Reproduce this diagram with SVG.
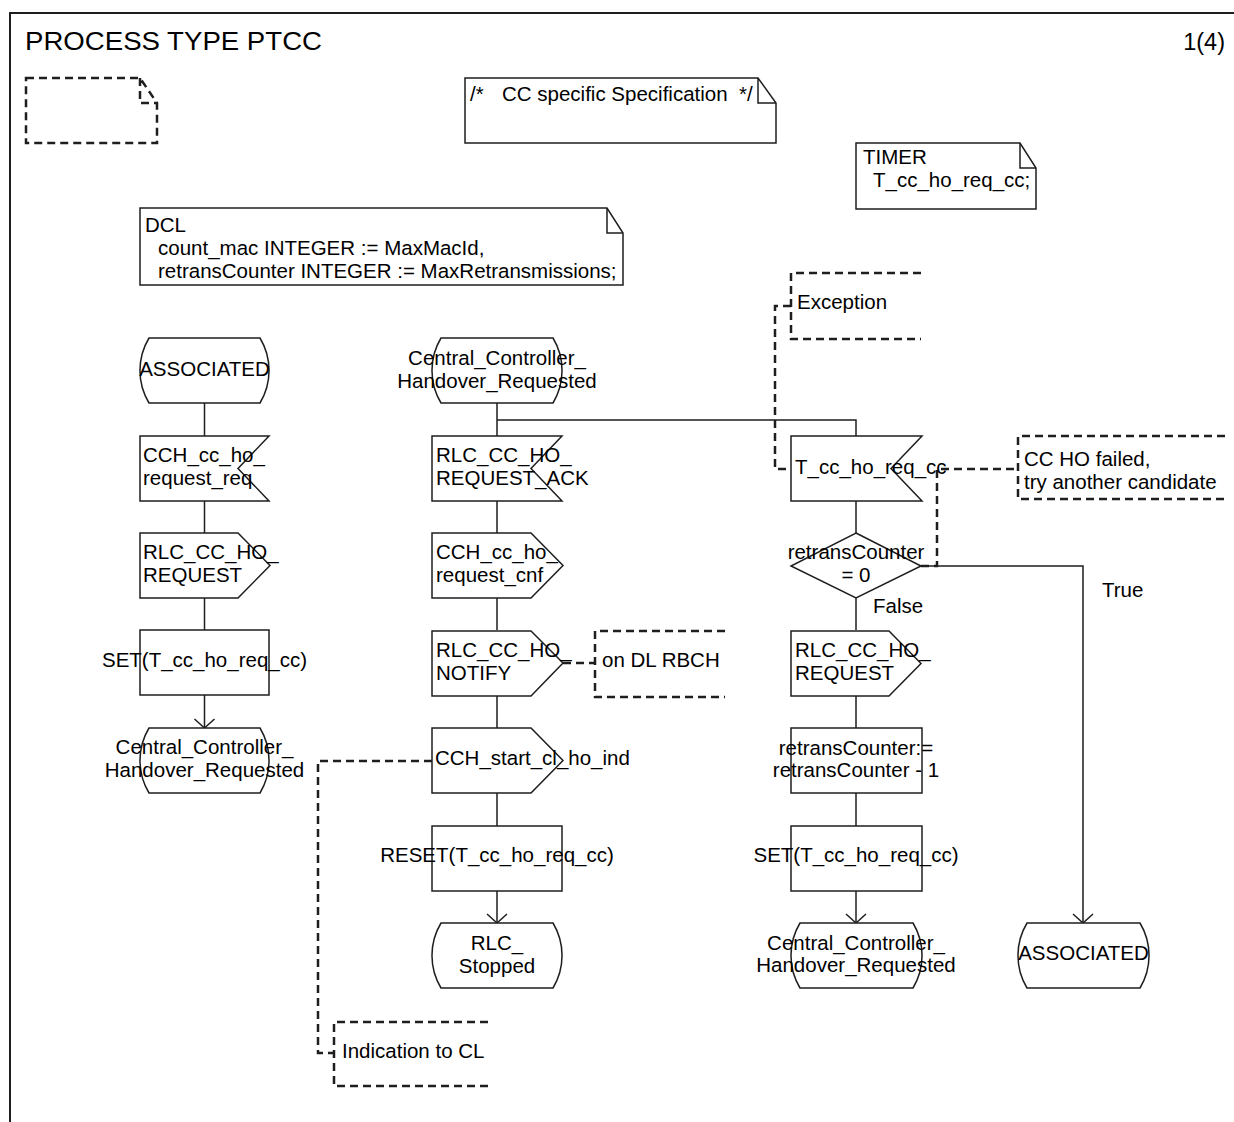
<svg xmlns="http://www.w3.org/2000/svg" width="1234" height="1122" viewBox="0 0 1234 1122">
<style>
text{font-family:"Liberation Sans",Arial,sans-serif;font-size:20.5px;fill:#000}
.c{text-anchor:middle}
.s{fill:#fff;stroke:#1e1e1e;stroke-width:1.5}
.f{fill:none;stroke:#1e1e1e;stroke-width:1.5}
.d{fill:none;stroke:#1e1e1e;stroke-width:2.5;stroke-dasharray:8 5}
.l{fill:none;stroke:#1e1e1e;stroke-width:1.5}
</style>
<defs>
<marker id="arr" viewBox="-11 -11 13 22" refX="0" refY="0" markerWidth="13" markerHeight="22" markerUnits="userSpaceOnUse" orient="auto" overflow="visible">
<path d="M-9,-10 L0,0 L-9,10" fill="none" stroke="#1e1e1e" stroke-width="1.5"/>
</marker>
</defs>
<g id="frame">
<path d="M10,1122 V13 H1234" fill="none" stroke="#1e1e1e" stroke-width="2"/>
<text x="25" y="50" style="font-size:26px" textLength="297" lengthAdjust="spacingAndGlyphs">PROCESS TYPE PTCC</text>
<text x="1225" y="50" style="font-size:23.5px;text-anchor:end">1(4)</text>
</g>
<g id="connectors">
<path class="l" d="M204.5,403 V436 M204.5,501 V533 M204.5,598 V630"/>
<path class="l" d="M204.5,695 V728" marker-end="url(#arr)"/>
<path class="l" d="M497,403 V436 M497,501 V533 M497,598 V630 M497,696 V728 M497,793 V826 M497,420 H856 V436"/>
<path class="l" d="M497,891 V923" marker-end="url(#arr)"/>
<path class="l" d="M856,501 V533 M856,598 V630 M856,696 V728 M856,793 V826"/>
<path class="l" d="M856,891 V923" marker-end="url(#arr)"/>
<path class="l" d="M921,566 H1083 V923" marker-end="url(#arr)"/>
<path class="d" d="M791,306 H775 V469 H791"/>
<path class="d" d="M921,566 H937 V469 H1018"/>
<path class="d" d="M563,663 H595"/>
<path class="d" d="M432,761 H318 V1053 H334"/>
</g>
<g id="note_empty"><path class="d" d="M26,78 H140 L157,103 V143 H26 Z M140,78 V103 H157"/></g>
<g id="note_cc">
<path class="s" d="M465,78 H758 L776,103 V143 H465 Z"/><path class="f" d="M758,78 V103 H776"/>
<text y="101"><tspan x="470">/*</tspan><tspan x="502">CC specific Specification</tspan><tspan x="739">*/</tspan></text>
</g>
<g id="note_timer">
<path class="s" d="M856,143 H1020 L1036,168 V209 H856 Z"/><path class="f" d="M1020,143 V168 H1036"/>
<text x="863" y="164">TIMER</text><text x="873" y="187">T_cc_ho_req_cc;</text>
</g>
<g id="note_dcl">
<path class="s" d="M140,208 H607 L623,233 V285 H140 Z"/><path class="f" d="M607,208 V233 H623"/>
<text x="145" y="232">DCL</text>
<text x="158" y="255">count_mac INTEGER := MaxMacId,</text>
<text x="158" y="278">retransCounter INTEGER := MaxRetransmissions;</text>
</g>
<g id="state_associated_1">
<path class="s" d="M149,338 H260 A63 63 0 0 1 260,403 H149 A63 63 0 0 1 149,338 Z"/>
<text class="c" x="204.5" y="376">ASSOCIATED</text>
</g>
<g id="input_cch_req">
<path class="s" d="M140,436 H269 L238,468.5 L269,501 H140 Z"/>
<text x="143" y="462">CCH_cc_ho_</text><text x="143" y="485">request_req</text>
</g>
<g id="output_rlc_req_1">
<path class="s" d="M140,533 H238 L270,565.5 L238,598 H140 Z"/>
<text x="143" y="559">RLC_CC_HO_</text><text x="143" y="582">REQUEST</text>
</g>
<g id="task_set_1">
<rect class="s" x="140" y="630" width="129" height="65"/>
<text class="c" x="204.5" y="667">SET(T_cc_ho_req_cc)</text>
</g>
<g id="state_cchr_1">
<path class="s" d="M149,728 H260 A63 63 0 0 1 260,793 H149 A63 63 0 0 1 149,728 Z"/>
<text class="c" x="204.5" y="754">Central_Controller_</text><text class="c" x="204.5" y="777">Handover_Requested</text>
</g>
<g id="state_cchr_2">
<path class="s" d="M441,338 H553 A63 63 0 0 1 553,403 H441 A63 63 0 0 1 441,338 Z"/>
<text class="c" x="497" y="365">Central_Controller_</text><text class="c" x="497" y="388">Handover_Requested</text>
</g>
<g id="input_rlc_ack">
<path class="s" d="M432,436 H562 L531,468.5 L562,501 H432 Z"/>
<text x="436" y="462">RLC_CC_HO_</text><text x="436" y="485">REQUEST_ACK</text>
</g>
<g id="output_cch_cnf">
<path class="s" d="M432,533 H531 L563,565.5 L531,598 H432 Z"/>
<text x="436" y="559">CCH_cc_ho_</text><text x="436" y="582">request_cnf</text>
</g>
<g id="output_rlc_notify">
<path class="s" d="M432,631 H531 L563,663 L531,696 H432 Z"/>
<text x="436" y="657">RLC_CC_HO_</text><text x="436" y="680">NOTIFY</text>
</g>
<g id="comment_dl_rbch">
<path class="d" d="M725,631 H595 V697 H725"/>
<text x="602" y="667">on DL RBCH</text>
</g>
<g id="output_cch_start">
<path class="s" d="M432,728 H531 L563,760.5 L531,793 H432 Z"/>
<text x="435" y="765">CCH_start_cl_ho_ind</text>
</g>
<g id="comment_indication">
<path class="d" d="M488,1022 H334 V1086 H488"/>
<text x="342" y="1058">Indication to CL</text>
</g>
<g id="task_reset">
<rect class="s" x="432" y="826" width="130" height="65"/>
<text class="c" x="497" y="862">RESET(T_cc_ho_req_cc)</text>
</g>
<g id="state_rlc_stopped">
<path class="s" d="M441,923 H553 A63 63 0 0 1 553,988 H441 A63 63 0 0 1 441,923 Z"/>
<text class="c" x="497" y="950">RLC_</text><text class="c" x="497" y="973">Stopped</text>
</g>
<g id="comment_exception">
<path class="d" d="M921,273 H791 V339 H921"/>
<text x="797" y="309">Exception</text>
</g>
<g id="input_timer">
<path class="s" d="M791,436 H922 L891,468.5 L922,501 H791 Z"/>
<text x="795" y="474">T_cc_ho_req_cc</text>
</g>
<g id="comment_cc_ho_failed">
<path class="d" d="M1225,436 H1018 V499 H1225"/>
<text x="1024" y="466">CC HO failed,</text><text x="1024" y="489">try another candidate</text>
</g>
<g id="decision_retrans">
<path class="s" d="M856,533 L921,566 L856,598 L791,566 Z"/>
<text class="c" x="856" y="559">retransCounter</text><text class="c" x="856" y="582">= 0</text>
<text x="873" y="613">False</text>
<text x="1102" y="597">True</text>
</g>
<g id="output_rlc_req_3">
<path class="s" d="M791,631 H889 L921,663.5 L889,696 H791 Z"/>
<text x="795" y="657">RLC_CC_HO_</text><text x="795" y="680">REQUEST</text>
</g>
<g id="task_dec">
<rect class="s" x="791" y="728" width="131" height="65"/>
<text class="c" x="856" y="755">retransCounter:=</text><text class="c" x="856" y="777">retransCounter - 1</text>
</g>
<g id="task_set_3">
<rect class="s" x="791" y="826" width="131" height="65"/>
<text class="c" x="856" y="862">SET(T_cc_ho_req_cc)</text>
</g>
<g id="state_cchr_3">
<path class="s" d="M800,923 H913 A63 63 0 0 1 913,988 H800 A63 63 0 0 1 800,923 Z"/>
<text class="c" x="856" y="950">Central_Controller_</text><text class="c" x="856" y="972">Handover_Requested</text>
</g>
<g id="state_associated_4">
<path class="s" d="M1027,923 H1140 A63 63 0 0 1 1140,988 H1027 A63 63 0 0 1 1027,923 Z"/>
<text class="c" x="1083.5" y="960">ASSOCIATED</text>
</g>
</svg>
